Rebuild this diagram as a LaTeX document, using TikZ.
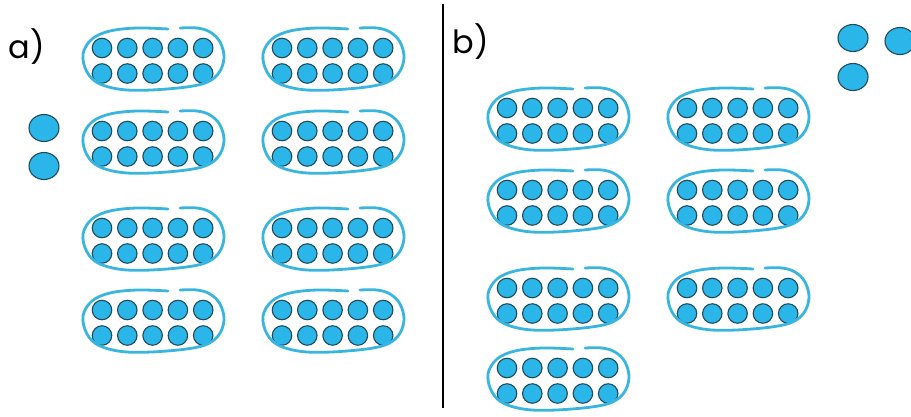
\documentclass[tikz,border=0pt]{standalone}
\usepackage{fontspec}
\newfontfamily\labfont{Poppins}
\usetikzlibrary{shapes.geometric}
\definecolor{dotfill}{HTML}{2AB6E8}
\definecolor{dotedge}{HTML}{234A5A}
\definecolor{loopcol}{HTML}{3AB5DF}
\tikzset{
  dot/.style={circle,draw=dotedge,fill=dotfill,line width=1.1pt,minimum size=19.5pt,inner sep=0pt},
  single/.style={ellipse,draw=dotedge,fill=dotfill,line width=1.1pt,minimum width=30pt,minimum height=27pt,inner sep=0pt},
  loopline/.style={draw=loopcol,line width=2.8pt,line cap=round},
  lab/.style={font=\labfont\fontsize{32}{32}\selectfont,inner sep=0pt},
  tenframe/.pic={
    \foreach \i in {0,...,4}{
      \foreach \j in {0,1}{
        \node[dot] (-d\i\j) at (25.3*\i,25.5*\j) {};
      }
    }
    \draw[loopline] plot[smooth,tension=0.6] coordinates {
      (66,-19) (35,-20) (8,-17) (-10,-9) (-19,6) (-15,24) (-2,36) (25,42)
      (65,41) (100,36) (116,26) (122,10) (118,-6) (108,-16) (95,-20) (78,-20)};
  }
}
\begin{document}
\begin{tikzpicture}[x=1pt,y=-1pt]
\useasboundingbox (0,0) rectangle (911,416);
% panel a
\node[lab] (la) at (27,47) {a)};
\pic (a1) at (102,48) {tenframe};
\pic (a2) at (282,48) {tenframe};
\pic (a3) at (102,131) {tenframe};
\pic (a4) at (282,131) {tenframe};
\pic (a5) at (102,228) {tenframe};
\pic (a6) at (282,228) {tenframe};
\pic (a7) at (102,310) {tenframe};
\pic (a8) at (282,310) {tenframe};
\node[single] (sa1) at (44,128) {};
\node[single] (sa2) at (44,166) {};
% divider
\coordinate (divtop) at (443,4);
\coordinate (divbot) at (443,408);
\draw[line width=1.8pt] (divtop) -- (divbot);
% panel b
\node[lab] (lb) at (471,42) {b)};
\pic (b1) at (507,108) {tenframe};
\pic (b2) at (687,108) {tenframe};
\pic (b3) at (507,190) {tenframe};
\pic (b4) at (687,190) {tenframe};
\pic (b5) at (507,288) {tenframe};
\pic (b6) at (687,288) {tenframe};
\pic (b7) at (507,368) {tenframe};
\node[single] (sb1) at (853,38) {};
\node[single] (sb2) at (900,41) {};
\node[single] (sb3) at (853,77) {};
\end{tikzpicture}
\end{document}
